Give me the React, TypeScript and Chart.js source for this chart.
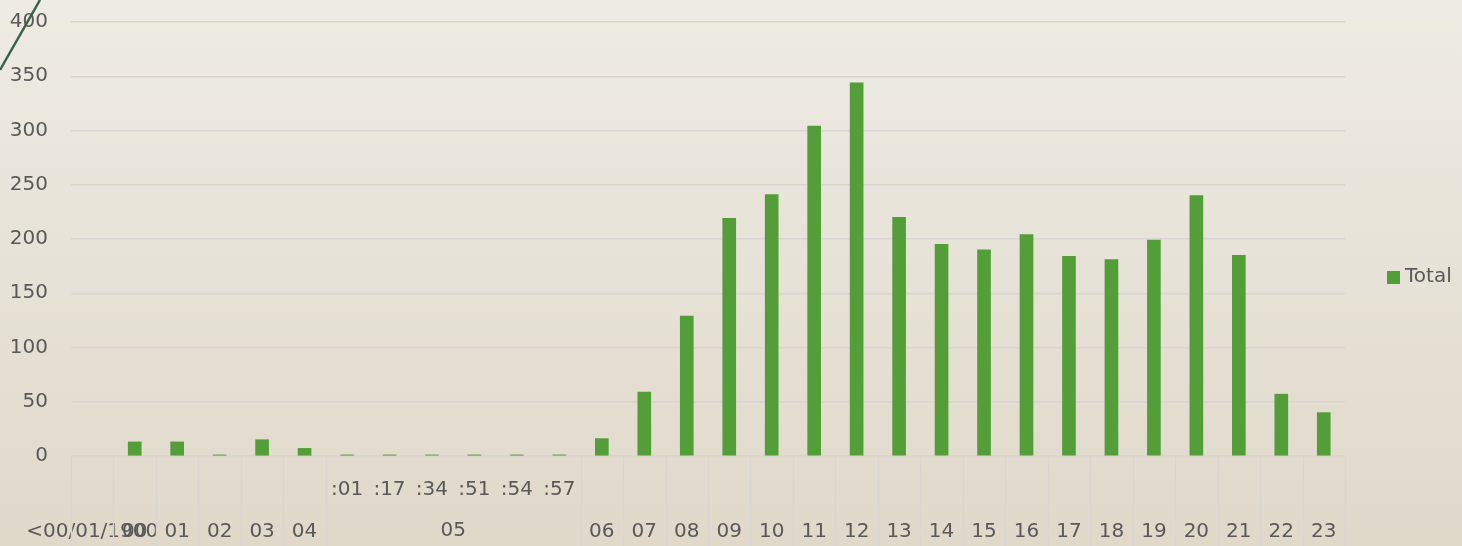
import React, { useEffect, useRef } from 'react';
import { Chart, registerables } from 'chart.js';

Chart.register(...registerables);

const categories = [
  '<00/01/1900', '00', '01', '02', '03', '04',
  ':01', ':17', ':34', ':51', ':54', ':57',
  '06', '07', '08', '09', '10', '11', '12', '13', '14', '15',
  '16', '17', '18', '19', '20', '21', '22', '23',
];
const totals = [
  null, 13, 13, 1, 15, 7,
  1, 1, 1, 1, 1, 1,
  16, 59, 129, 219, 241, 304, 344, 220, 195, 190,
  204, 184, 181, 199, 240, 185, 57, 40,
];
const groupLabel = '05';
const groupStart = 6;
const groupEnd = 11;
const seriesName = 'Total';
const yMax = 400;
const yStep = 50;

const FONT = "'DejaVu Sans', sans-serif";
const TEXT = '#595959';
const GRID = '#d8d5d3';
const BAR = '#549e39';

const decorPlugin = {
  id: 'decor',
  beforeDraw(chart: any) {
    const { ctx, width, height } = chart;
    ctx.save();
    const g = ctx.createLinearGradient(0, 0, 0, height);
    g.addColorStop(0, '#eeebe4');
    g.addColorStop(1, '#e0d9ca');
    ctx.fillStyle = g;
    ctx.fillRect(0, 0, width, height);
    ctx.restore();
  },
  afterDraw(chart: any) {
    const { ctx, chartArea, height } = chart;
    const xs = chart.scales.x;
    const n = categories.length;
    const w = (chartArea.right - chartArea.left) / n;
    ctx.save();
    ctx.strokeStyle = GRID;
    ctx.lineWidth = 1.5;
    for (let i = 0; i <= n; i++) {
      if (i > groupStart && i <= groupEnd) continue;
      const x = Math.round(chartArea.left + i * w) + 0.5;
      ctx.beginPath();
      ctx.moveTo(x, chartArea.bottom);
      ctx.lineTo(x, height);
      ctx.stroke();
    }
    // group label
    ctx.fillStyle = TEXT;
    ctx.font = `20px ${FONT}`;
    ctx.textAlign = 'center';
    ctx.textBaseline = 'middle';
    const gx = (xs.getPixelForValue(groupStart) + xs.getPixelForValue(groupEnd)) / 2;
    ctx.fillText(groupLabel, gx, 531);
    // legend
    ctx.fillStyle = BAR;
    ctx.fillRect(1387, 271, 13, 13);
    ctx.fillStyle = TEXT;
    ctx.textAlign = 'left';
    ctx.fillText(seriesName, 1405, 277);
    // decorative diagonal line
    ctx.strokeStyle = '#3b6148';
    ctx.lineWidth = 2.5;
    ctx.beginPath();
    ctx.moveTo(0, 70);
    ctx.lineTo(40, 0);
    ctx.stroke();
    ctx.restore();
  },
};

export default function App() {
  const ref = useRef<HTMLCanvasElement | null>(null);
  useEffect(() => {
    document.body.style.margin = '0';
    const chart = new Chart(ref.current as HTMLCanvasElement, {
      type: 'bar',
      data: {
        labels: categories,
        datasets: [
          {
            label: seriesName,
            data: totals,
            backgroundColor: BAR,
            barThickness: 13,
          },
        ],
      },
      options: {
        animation: false,
        responsive: false,
        layout: { padding: { top: 22, right: 117, left: 0, bottom: 0 } },
        plugins: { legend: { display: false }, tooltip: { enabled: false } },
        scales: {
          x: {
            offset: true,
            grid: { display: false },
            border: { display: false },
            afterFit(scale: any) {
              scale.height = 90;
              scale.paddingLeft = 0;
              scale.paddingRight = 0;
            },
            ticks: {
              autoSkip: false,
              maxRotation: 0,
              minRotation: 0,
              padding: 5,
              color: TEXT,
              font: { family: FONT, size: 20, lineHeight: 2.1 },
              callback: (_v: any, i: number) =>
                i >= groupStart && i <= groupEnd ? [categories[i], ''] : ['', categories[i]],
            },
          },
          y: {
            min: 0,
            max: yMax,
            grid: { color: GRID, lineWidth: 1.5, drawTicks: false },
            border: { display: false },
            afterFit(scale: any) {
              scale.width = 71;
              scale.paddingTop = 0;
              scale.paddingBottom = 0;
            },
            ticks: {
              stepSize: yStep,
              padding: 23,
              color: TEXT,
              font: { family: FONT, size: 20 },
            },
          },
        },
      },
      plugins: [decorPlugin],
    } as any);
    return () => chart.destroy();
  }, []);
  return (
    <div style={{ position: 'absolute', left: 0, top: 0, width: 1462, height: 546 }}>
      <canvas ref={ref} width={1462} height={546} />
    </div>
  );
}
